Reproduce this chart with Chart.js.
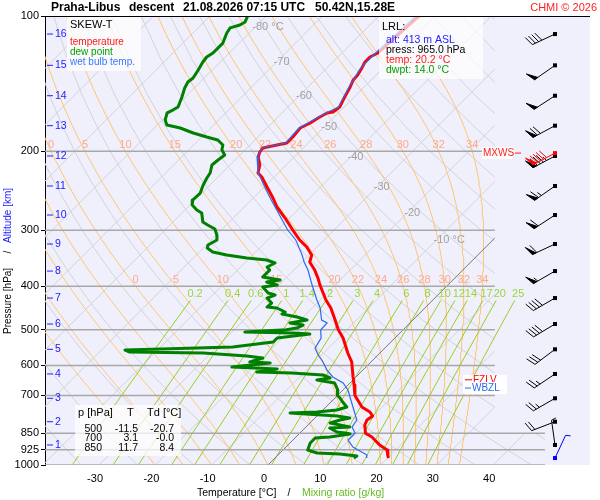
<!DOCTYPE html>
<html>
<head>
<meta charset="utf-8">
<title>Skew-T Praha-Libus</title>
<script src="https://cdn.jsdelivr.net/npm/chart.js@4.4.1/dist/chart.umd.min.js"></script>
<style>
  body { margin: 0; background: #fff; }
  #wrap { width: 600px; height: 500px; }
</style>
</head>
<body>
<div id="wrap"><canvas id="skewt" width="600" height="500"></canvas></div>
<script>
// sounding: pressure [hPa] and temperature [°C]
const tempP = [100, 101, 120.9, 123.4, 126.6, 130.5, 135.3, 138.8, 143.9, 151.5,
  159.5, 163.6, 164.4, 168.7, 173.1, 177.6, 186, 191.8, 193.8, 196.8,
  200.9, 206.1, 214.7, 223.7, 228.4, 240.4, 254.3, 266.3, 281.8, 299.7,
  315.4, 327, 340.7, 353.2, 368, 383.4, 397.4, 429, 447, 475.5,
  500, 521.4, 563.1, 589.7, 636.8, 663.5, 700, 742.7, 762.1, 777.9,
  794, 814.6, 850, 866.3, 902.6, 926, 954.9, 965];
const tempT = [-52.7, -52.9, -53.6, -54.3, -54.3, -53.8, -53.3, -53.2, -52.5, -51.7,
  -50.8, -51.1, -52.0, -52.7, -53.2, -54.1, -53.8, -53.8, -55.2, -57.2,
  -57.0, -56.4, -54.7, -53.6, -52.2, -49.5, -46.5, -44.2, -40.8, -37.3,
  -34.3, -31.8, -29.5, -28.6, -26.3, -24.3, -22.7, -19.0, -16.7, -13.8,
  -11.5, -9.2, -5.7, -3.4, -0.5, 1.1, 3.1, 6.4, 8.7, 9.9,
  9.6, 10.1, 11.7, 13.5, 16.3, 18.5, 19.7, 20.2];

const dewP = [100, 103.1, 104.7, 106.3, 109.1, 114.9, 120.9, 123.4, 126.6, 131.9,
  137.4, 140.3, 144.7, 151.5, 159.5, 162, 164.4, 170.4, 174.9, 177.6,
  182.2, 186, 188.9, 193.8, 198.8, 204, 209.3, 214.7, 223.7, 229.5,
  237.9, 247.9, 256.9, 263.6, 270.4, 274.6, 287.6, 292.1, 298.2, 307.5,
  315.4, 323.6, 328.7, 335.5, 340.7, 345.9, 349.5, 354.9, 362.2, 368,
  381.4, 387.3, 391.3, 397.4, 401.5, 414, 418.3, 424.8, 435.8, 444.8,
  447, 456.3, 461, 468.2, 475.5, 482.8, 487.8, 495.4, 500, 505.7,
  508.3, 510.9, 521.4, 532.3, 546.2, 554.6, 560.4, 563.1, 571.9, 577.8,
  589.7, 592.8, 605, 611.1, 620.7, 623.9, 630.3, 640.1, 646.8, 656.8,
  680.8, 700, 709.3, 724, 742.7, 754.3, 762.1, 766.1, 777.9, 786,
  794, 806.3, 823.2, 827.3, 844.4, 850, 853.1, 866.3, 870.9, 893.3,
  926, 940.4, 945.2, 954.9, 965];
const dewT = [-83.3, -82.7, -83.1, -84.3, -84.0, -82.9, -82.9, -83.3, -83.1, -82.5,
  -82.0, -82.2, -81.7, -80.6, -79.5, -79.9, -80.4, -79.5, -78.3, -75.4,
  -72.2, -69.1, -66.6, -64.8, -64.1, -62.7, -63.0, -63.2, -62.1, -61.8,
  -61.2, -60.3, -60.4, -59.6, -57.9, -56.5, -54.7, -53.3, -51.3, -49.9,
  -49.0, -49.7, -49.3, -47.6, -44.6, -40.5, -36.6, -34.6, -35.3, -34.3,
  -34.3, -30.7, -32.7, -30.3, -32.5, -30.5, -28.9, -29.8, -28.1, -28.2,
  -26.3, -24.1, -24.3, -21.1, -18.8, -21.3, -18.6, -19.2, -20.7, -27.7,
  -19.0, -15.8, -20.9, -20.9, -27.2, -45.8, -44.6, -31.4, -23.1, -19.9,
  -21.5, -17.7, -23.8, -15.4, -18.5, -12.1, -6.2, -4.4, -6.4, -2.7,
  -0.9, 0.0, 0.9, 2.1, 3.7, 2.5, -0.7, -5.3, 3.6, 6.2,
  4.8, 3.6, 7.8, 4.4, 6.4, 8.4, 9.1, 6.0, 3.6, 3.6,
  4.4, 6.6, 10.8, 14.2, 14.0];

const wetP = [100, 120.9, 130.5, 143.9, 159.5, 164.4, 177.6, 191.8, 196.8, 206.1,
  223.7, 228.4, 240.4, 254.3, 281.8, 299.7, 315.4, 340.7, 353.2, 368,
  397.4, 429, 447, 475.5, 482.8, 500.5, 521.4, 549, 568.9, 589.7,
  614.3, 636.8, 656.8, 680.8, 705.7, 742.7, 794, 823.2, 848.7, 879.9,
  911.9, 950, 965];
const wetT = [-53.4, -54.0, -54.0, -52.7, -51.0, -52.2, -54.3, -54.0, -57.3, -56.6,
  -53.6, -52.5, -49.9, -47.0, -41.5, -38.2, -35.0, -31.2, -29.6, -27.5,
  -24.1, -20.6, -18.6, -16.2, -14.7, -14.6, -13.1, -12.4, -10.6, -8.5,
  -6.4, -4.1, -1.2, 0.9, 2.5, 4.8, 7.8, 8.2, 9.8, 9.8,
  11.9, 15.8, 16.3];

// altitude levels (km) with their pressure, and the wind there
const heightKm = [1, 2, 3, 4, 5, 6, 7, 8, 9, 10, 11, 12, 13, 14, 15, 16];
const heightP = [902.5, 800.9, 710.3, 627.0, 552.5, 485.3, 424.8, 369.9, 322.0, 277.5,
  239.1, 205.0, 175.5, 150.5, 128.8, 109.7];
const windDir = [352, 249, 240, 236, 233, 239, 240, 240, 245, 237, 235, 242, 242, 237, 235, 245];
const windSpd = [5, 20, 25, 25, 30, 40, 40, 55, 60, 60, 65, 85, 70, 50, 50, 40];
const sfcWind = { p: 965, dir: 25, spd: 5 };
const mxws = { p: 202, dir: 242, spd: 90 };
const fzlvP = 646;
const wbzlP = 674;

// lowest reported level and the standard levels table
const lrl = { alt: 413, press: 965.0, temp: 20.2, dwpt: 14.0 };
const tableP = ['500', '700', '850'];
const tableT = ['-11.5', '3.1', '11.7'];
const tableTd = ['-20.7', '-0.0', '8.4'];

// axis ticks and reference line sets
const pressureTicks = [100, 200, 300, 400, 500, 600, 700, 850, 925, 1000];
const tempTicks = [-30, -20, -10, 0, 10, 20, 30, 40];
const isoLabelT = [-80, -70, -60, -50, -40, -30, -20, -10];
const isoLabelP = [105.8, 126.6, 150.6, 176.7, 206.1, 240.4, 274.6, 315.4];
const thetaWLines = [-20, -15, -10, -5, 0, 5, 10, 15, 20, 22, 24, 26, 28, 30, 32, 34];
const mixRatios = [0.2, 0.4, 0.6, 1, 1.4, 2, 3, 4, 6, 8, 10, 12, 14, 17, 20, 25];

// skew of the isotherms and the visible part of the diagram
const SKEW = 79.7;
const X_MIN = -39.6, X_MAX = 57.2;
const X_UP = 40.3, X_LOW = 49.2;
const FONT = '"Liberation Sans", Arial, sans-serif';

function skewX(t, p) { return t + SKEW * Math.log10(1000 / p); }
function series(ps, ts) { return ps.map((p, i) => ({ x: skewX(ts[i], p), y: p })); }

function mixTd(w, p) {
  const e = w * p / (622 + w);
  const l = Math.log(e / 6.112);
  return 243.5 * l / (17.67 - l);
}

// saturated (pseudo) adiabat starting at 1000 hPa from wet bulb pot. temp
function pseudoAdiabat(tw) {
  const Rd = 287.04, cp = 1005.7, Lv = 2.501e6, eps = 0.622;
  const slope = (T, p) => {
    const tc = T - 273.15;
    const es = 6.112 * Math.exp(17.67 * tc / (tc + 243.5));
    const rs = eps * es / (p - es);
    return ((Rd * T + Lv * rs) / p) / (cp + Lv * Lv * rs * eps / (Rd * T * T));
  };
  let T = tw + 273.15, p = 1000;
  const pts = [{ x: skewX(tw, 1000), y: 1000 }];
  while (p > 100) {
    const k1 = slope(T, p);
    const k2 = slope(T + k1 * -2.5, p - 2.5);
    T -= k2 * 5;
    p -= 5;
    pts.push({ x: skewX(T - 273.15, p), y: p });
  }
  return pts;
}

function line(data, color, width, extra) {
  return Object.assign({ data: data, borderColor: color, borderWidth: width,
    showLine: true, pointRadius: 0, fill: false, tension: 0 }, extra || {});
}

const datasets = [];
// sounding on top (lower index is drawn later)
datasets.push(line(series(wetP, wetT), '#2a6cf0', 1.2, { id: 'wet' }));
datasets.push(line(series(tempP, tempT), '#ff0000', 3, { id: 'temp', borderJoinStyle: 'round' }));
datasets.push(line(series(dewP, dewT), '#008000', 3, { id: 'dew', borderJoinStyle: 'round' }));

// isobars
pressureTicks.slice(1).forEach(p => {
  datasets.push(line([{ x: X_MIN, y: p }, { x: p >= 850 ? X_LOW : X_UP, y: p }], '#a8a8a8', 1.5));
});

// 0 °C isotherm
datasets.push(line([{ x: skewX(0, 1000), y: 1000 }, { x: skewX(0, 100), y: 100 }], '#777777', 1, { clipL: true }));

// mixing ratio lines
mixRatios.forEach(w => {
  const pts = [];
  for (let p = 430; p <= 1000; p += 30) pts.push({ x: skewX(mixTd(w, p), p), y: p });
  pts.push({ x: skewX(mixTd(w, 1000), 1000), y: 1000 });
  datasets.push(line(pts, '#9acd1e', 1));
});

// pseudo adiabats
const adiabats = {};
thetaWLines.forEach(tw => {
  adiabats[tw] = pseudoAdiabat(tw);
  datasets.push(line(adiabats[tw], '#ffc46e', 1, { clipL: true }));
});

// dry adiabats and isotherms
for (let th = 230; th <= 470; th += 10) {
  const pts = [];
  for (let p = 100; p <= 1000; p += 25) pts.push({ x: skewX(th * Math.pow(p / 1000, 0.2857) - 273.15, p), y: p });
  datasets.push(line(pts, '#d2d2d8', 1, { clipL: true }));
}
for (let t = -120; t <= 40; t += 10) {
  if (t === 0) continue;
  datasets.push(line([{ x: skewX(t, 1000), y: 1000 }, { x: skewX(t, 100), y: 100 }], '#d2d2d8', 1, { clipL: true }));
}

function txt(ctx, s, x, y, color, size, align, bold) {
  ctx.font = (bold ? 'bold ' : '') + size + 'px ' + FONT;
  ctx.fillStyle = color;
  ctx.textAlign = align || 'left';
  ctx.textBaseline = 'middle';
  ctx.fillText(s, x, y);
  return ctx.measureText(s).width;
}

function barb(ctx, x, y, dir, spd, color) {
  const r = dir * Math.PI / 180;
  const ux = Math.sin(r), uy = -Math.cos(r);
  const px = -uy, py = ux;
  const a = 70 * Math.PI / 180;
  const fx = Math.cos(a) * ux + Math.sin(a) * px, fy = Math.cos(a) * uy + Math.sin(a) * py;
  const L = 25, F = 10, gap = 3.5;
  const tx = x + ux * L, ty = y + uy * L;
  ctx.save();
  ctx.strokeStyle = color;
  ctx.fillStyle = color;
  ctx.lineWidth = 1;
  ctx.beginPath(); ctx.moveTo(x, y); ctx.lineTo(tx, ty); ctx.stroke();
  ctx.fillRect(x - 2, y - 2, 4, 4);
  let s = Math.round(spd / 5) * 5, d = 0;
  while (s >= 50) {
    const bx = tx - ux * d, by = ty - uy * d;
    ctx.beginPath();
    ctx.moveTo(bx, by); ctx.lineTo(bx + fx * F, by + fy * F); ctx.lineTo(bx - ux * 4, by - uy * 4);
    ctx.closePath(); ctx.fill(); ctx.stroke();
    d += 5; s -= 50;
  }
  while (s >= 10) {
    const bx = tx - ux * d, by = ty - uy * d;
    ctx.beginPath(); ctx.moveTo(bx, by); ctx.lineTo(bx + fx * F, by + fy * F); ctx.stroke();
    d += gap; s -= 10;
  }
  if (s >= 5) {
    const bx = tx - ux * d, by = ty - uy * d;
    ctx.beginPath(); ctx.moveTo(bx, by); ctx.lineTo(bx + fx * F * 0.5, by + fy * F * 0.5); ctx.stroke();
  }
  ctx.restore();
}

function box(ctx, x, y, w, h, alpha) {
  ctx.fillStyle = 'rgba(255,255,255,' + alpha + ')';
  ctx.fillRect(x, y, w, h);
}

// labels of the background lines, drawn under the sounding
function gridLabels(chart) {
  const { ctx, scales: { x, y } } = chart;
  ctx.save();
  isoLabelT.forEach((t, i) => {
    const s = t + (t === -80 || t === -10 ? ' °C' : '');
    txt(ctx, s, x.getPixelForValue(skewX(t, isoLabelP[i])) - 3, y.getPixelForValue(isoLabelP[i]), '#a0a0a0', 11);
  });
  thetaWLines.filter(tw => tw >= 0).forEach(tw => {
    [200, 400].forEach(lev => {
      const pt = adiabats[tw].find(q => q.y === lev);
      if (pt) txt(ctx, String(tw), x.getPixelForValue(pt.x), y.getPixelForValue(lev) - 6, '#ffa98a', 11, 'center');
    });
  });
  mixRatios.forEach(w => {
    txt(ctx, String(w), x.getPixelForValue(skewX(mixTd(w, 416), 416)), y.getPixelForValue(416), '#99d63a', 11, 'center');
  });
  ctx.restore();
}

function overlay(chart) {
  const { ctx, chartArea: a, scales: { y } } = chart;
  ctx.save();
  // top frame
  ctx.strokeStyle = '#000'; ctx.lineWidth = 1;
  ctx.beginPath(); ctx.moveTo(a.left, a.top + 0.5); ctx.lineTo(a.right, a.top + 0.5); ctx.stroke();

  // altitude ticks
  heightKm.forEach((km, i) => {
    const py = y.getPixelForValue(heightP[i]);
    ctx.strokeStyle = '#2020ff';
    ctx.beginPath(); ctx.moveTo(a.left + 2, py); ctx.lineTo(a.left + 8, py); ctx.stroke();
    txt(ctx, String(km), a.left + 10, py, '#2020ff', 10.5);
  });

  // legend
  box(ctx, 67, 17, 74, 54, 0.75);
  txt(ctx, 'SKEW-T', 70, 25, '#000', 11);
  txt(ctx, 'temperature', 70, 42, '#ff1a1a', 10);
  txt(ctx, 'dew point', 70, 52, '#00a000', 10);
  txt(ctx, 'wet bulb temp.', 70, 62, '#3a78ff', 10);

  // lowest level box
  box(ctx, 379, 17, 104, 62, 0.7);
  txt(ctx, 'LRL:', 382, 27, '#000', 11);
  txt(ctx, 'alt: ' + lrl.alt + ' m ASL', 386, 40, '#2020ff', 10.5);
  txt(ctx, 'press: ' + lrl.press.toFixed(1) + ' hPa', 386, 50, '#000', 10.5);
  txt(ctx, 'temp: ' + lrl.temp.toFixed(1) + ' °C', 386, 60, '#ff1a1a', 10.5);
  txt(ctx, 'dwpt: ' + lrl.dwpt.toFixed(1) + ' °C', 386, 70, '#00a000', 10.5);

  // standard level table
  box(ctx, 75, 405, 106, 51, 0.75);
  txt(ctx, 'p [hPa]', 78, 413, '#000', 11);
  txt(ctx, 'T', 127, 413, '#000', 11);
  txt(ctx, 'Td [°C]', 147, 413, '#000', 11);
  tableP.forEach((p, i) => {
    const ry = 429 + i * 9.5;
    txt(ctx, p, 102, ry, '#000', 10.5, 'right');
    txt(ctx, tableT[i], 138, ry, '#000', 10.5, 'right');
    txt(ctx, tableTd[i], 174, ry, '#000', 10.5, 'right');
  });

  // freezing and wet bulb zero levels
  const yf = y.getPixelForValue(fzlvP), yw = y.getPixelForValue(wbzlP);
  box(ctx, 463, yf - 5, 44, 10, 0.9);
  ctx.strokeStyle = '#ff0000';
  ctx.beginPath(); ctx.moveTo(465, yf); ctx.lineTo(472, yf); ctx.stroke();
  txt(ctx, 'FZLV', 473, yf, '#ff0000', 10);
  box(ctx, 463, yw - 6, 44, 12, 0.95);
  ctx.strokeStyle = '#2a6cf0';
  ctx.beginPath(); ctx.moveTo(465, yw); ctx.lineTo(471, yw); ctx.stroke();
  txt(ctx, 'WBZL', 472, yw, '#2a6cf0', 10);

  // winds
  heightP.forEach((p, i) => barb(ctx, 555, y.getPixelForValue(p), windDir[i], windSpd[i], '#000'));
  const ym = y.getPixelForValue(mxws.p);
  box(ctx, 482, ym - 6, 31, 12, 0.9);
  txt(ctx, 'MXWS', 483, ym, '#ff2020', 10);
  ctx.strokeStyle = '#ff2020';
  ctx.beginPath(); ctx.moveTo(515, ym); ctx.lineTo(521, ym); ctx.stroke();
  barb(ctx, 555, ym, mxws.dir, mxws.spd, '#ff0000');
  barb(ctx, 555, y.getPixelForValue(sfcWind.p), sfcWind.dir, sfcWind.spd, '#0000ff');

  // titles
  txt(ctx, 'Praha-Libus', 51, 8, '#000', 12, 'left', true);
  txt(ctx, 'descent', 129, 8, '#000', 12, 'left', true);
  txt(ctx, '21.08.2026 07:15 UTC', 183, 8, '#000', 12, 'left', true);
  txt(ctx, '50.42N,15.28E', 315, 8, '#000', 12, 'left', true);
  txt(ctx, 'CHMI © 2026', 597, 8, '#ff2020', 11, 'right');

  let w = txt(ctx, 'Temperature [°C]', 197, 493, '#000', 10.5);
  txt(ctx, '/', 289, 493, '#000', 10.5, 'center');
  txt(ctx, 'Mixing ratio [g/kg]', 302, 493, '#66bb22', 10.5);

  ctx.translate(8, 0);
  ctx.rotate(-Math.PI / 2);
  txt(ctx, 'Pressure [hPa]', -334, 0, '#000', 10);
  txt(ctx, '/', -252, 0, '#000', 10, 'center');
  txt(ctx, 'Altitude [km]', -243, 0, '#2020ff', 10);
  ctx.restore();
}

const decor = {
  id: 'decor',
  beforeDraw(chart) {
    const { ctx, chartArea: a } = chart;
    ctx.save();
    ctx.fillStyle = '#fff';
    ctx.fillRect(0, 0, chart.width, chart.height);
    ctx.fillStyle = '#f0f0fc';
    ctx.fillRect(a.left, a.top, a.right - a.left, a.bottom - a.top);
    ctx.restore();
  },
  beforeDatasetDraw(chart, args) {
    const ds = chart.data.datasets[args.index];
    if (ds.id === 'dew') gridLabels(chart);
    if (ds.clipL) {
      const { ctx, chartArea: a, scales: { x, y } } = chart;
      const xu = x.getPixelForValue(X_UP), xl = x.getPixelForValue(X_LOW), y85 = y.getPixelForValue(850);
      ctx.save();
      ctx.beginPath();
      ctx.rect(a.left, a.top, xu - a.left, y85 - a.top);
      ctx.rect(a.left, y85, xl - a.left, a.bottom - y85);
      ctx.clip();
    }
  },
  afterDatasetDraw(chart, args) {
    if (chart.data.datasets[args.index].clipL) chart.ctx.restore();
  },
  afterDatasetsDraw(chart) { overlay(chart); }
};

Chart.defaults.font.family = FONT;

new Chart(document.getElementById('skewt').getContext('2d'), {
  type: 'scatter',
  data: { datasets: datasets },
  options: {
    responsive: false,
    animation: false,
    events: [],
    layout: { padding: { top: 16, right: 10, left: 0, bottom: 0 } },
    plugins: { legend: { display: false }, tooltip: { enabled: false } },
    scales: {
      x: {
        type: 'linear', min: X_MIN, max: X_MAX,
        grid: { display: false, drawTicks: false },
        border: { display: false },
        ticks: { color: '#000', font: { size: 11 }, padding: 7, labelOffset: -4, maxRotation: 0, autoSkip: false,
          callback: v => String(v) },
        afterBuildTicks: s => { s.ticks = tempTicks.map(v => ({ value: v })); },
        afterFit: s => { s.height = 35; }
      },
      y: {
        type: 'logarithmic', reverse: true, min: 100, max: 1000,
        grid: { drawOnChartArea: false, drawTicks: true, tickLength: 4, color: '#000' },
        border: { display: true, color: '#000' },
        ticks: { color: '#000', font: { size: 11 }, padding: 2, autoSkip: false, callback: v => String(v) },
        afterBuildTicks: s => { s.ticks = pressureTicks.map(v => ({ value: v })); },
        afterFit: s => { s.width = 45; }
      }
    }
  },
  plugins: [decor]
});
</script>
</body>
</html>
